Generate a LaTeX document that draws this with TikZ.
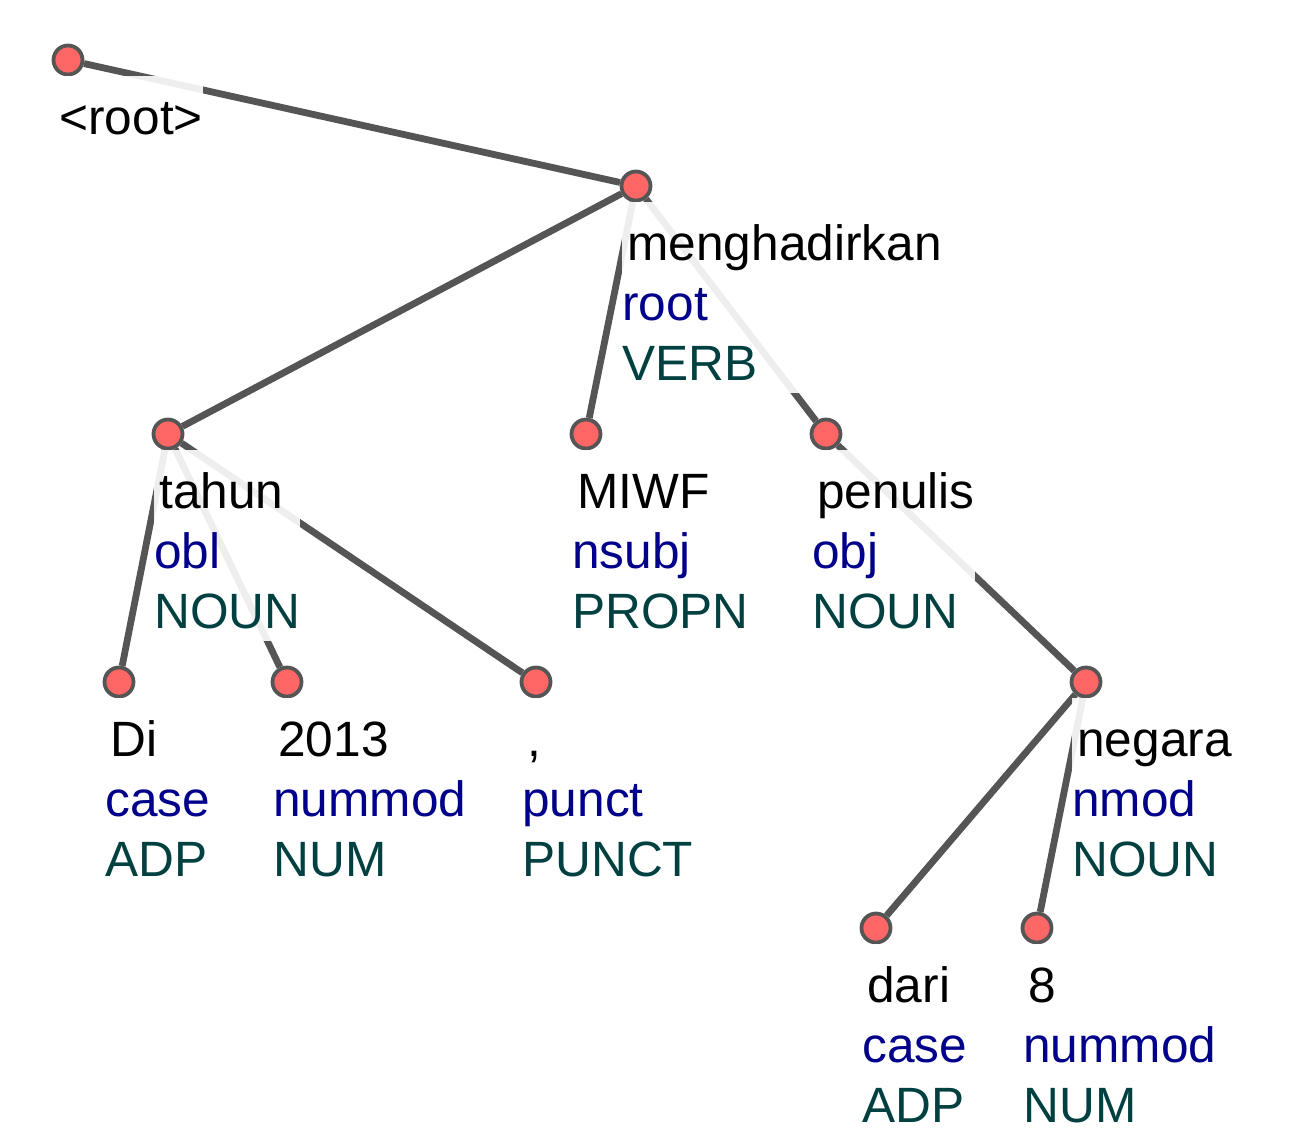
\documentclass[tikz,border=0pt]{standalone}
\usepackage{fontspec}
\setmainfont{Liberation Sans}
\definecolor{relcol}{RGB}{0,0,139}
\definecolor{poscol}{RGB}{0,64,64}
\definecolor{dotcol}{RGB}{255,102,102}
\definecolor{edgecol}{RGB}{85,85,85}
\newcommand{\firstline}[1]{\rule{0pt}{29pt}\hspace*{2.5pt}#1}
\newcommand{\tok}[3]{\firstline{#1}\\\textcolor{relcol}{#2}\\\textcolor{poscol}{#3}\rule[-6.5pt]{0pt}{6.5pt}}

\begin{document}
\begin{tikzpicture}[x=0.5pt,y=-0.5pt,
  dot/.style={draw=edgecol, fill=dotcol, circle, line width=1.9pt, minimum size=14.5pt, inner sep=0pt},
  dep/.style={draw=edgecol, line width=3.4pt},
  lbl/.style={anchor=north west, align=left, inner sep=0pt, fill=white, fill opacity=0.9, text opacity=1, font=\fontsize{24.8pt}{30pt}\selectfont}]
\useasboundingbox (0,0) rectangle (1290,1136);
% tokens
\node[dot] (0) at (68,60) {};
\node[dot] (6) at (636,186) {};
\node[dot] (2) at (168,434) {};
\node[dot] (5) at (586,434) {};
\node[dot] (7) at (826,434) {};
\node[dot] (1) at (119,682) {};
\node[dot] (3) at (287,682) {};
\node[dot] (4) at (536,682) {};
\node[dot] (10) at (1086,682) {};
\node[dot] (8) at (876,928) {};
\node[dot] (9) at (1037,928) {};
% dependencies
\path[dep] (0) edge (6);
\path[dep] (6) edge (2);
\path[dep] (6) edge (5);
\path[dep] (6) edge (7);
\path[dep] (2) edge (1);
\path[dep] (2) edge (3);
\path[dep] (2) edge (4);
\path[dep] (7) edge (10);
\path[dep] (10) edge (8);
\path[dep] (10) edge (9);
% labels
\node[lbl] (t0) at (54,76) {\firstline{<root>}\rule[-6.5pt]{0pt}{6.5pt}};
\node[lbl] (t6) at (622,202) {\tok{menghadirkan}{root}{VERB}};
\node[lbl] (t2) at (154,450) {\tok{tahun}{obl}{NOUN}};
\node[lbl] (t5) at (572,450) {\tok{MIWF}{nsubj}{PROPN}};
\node[lbl] (t7) at (812,450) {\tok{penulis}{obj}{NOUN}};
\node[lbl] (t1) at (105,698) {\tok{Di}{case}{ADP}};
\node[lbl] (t3) at (273,698) {\tok{2013}{nummod}{NUM}};
\node[lbl] (t4) at (522,698) {\tok{,}{punct}{PUNCT}};
\node[lbl] (t10) at (1072,698) {\tok{negara}{nmod}{NOUN}};
\node[lbl] (t8) at (862,944) {\tok{dari}{case}{ADP}};
\node[lbl] (t9) at (1023,944) {\tok{8}{nummod}{NUM}};
\end{tikzpicture}
\end{document}
